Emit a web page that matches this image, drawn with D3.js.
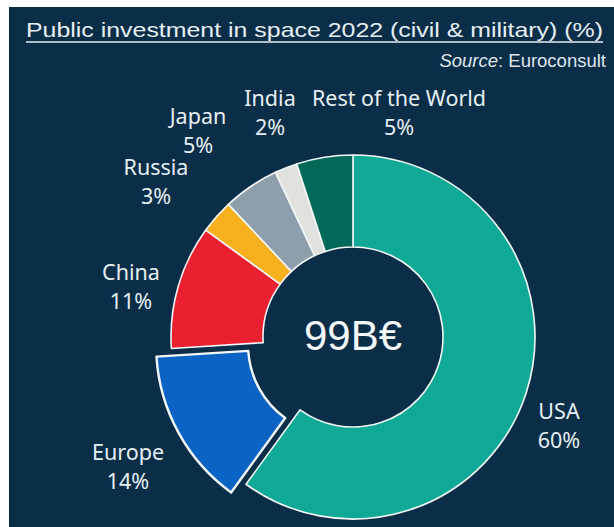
<!DOCTYPE html>
<html>
<head>
<meta charset="utf-8">
<script src="https://cdn.jsdelivr.net/npm/d3@7"></script>
<style>
  html, body { margin: 0; padding: 0; background: #ffffff; }
  svg { display: block; }
</style>
</head>
<body>
<svg id="chart" width="614" height="527"></svg>
<script>
// Shares of public space investment, 2022 (civil & military), clockwise from 12 o'clock
const categories = ["USA", "Europe", "China", "Russia", "Japan", "India", "Rest of the World"];
const shares = [60, 14, 11, 3, 5, 2, 5];
const shareLabels = ["60%", "14%", "11%", "3%", "5%", "2%", "5%"];
const colors = ["#10a996", "#0b63c3", "#e8202f", "#f7b11e", "#8f9eac", "#e1e2de", "#02695a"];
const totalLabel = "99B€";
const highlighted = "Europe";

// Label anchors (centre of text block, first-line baseline)
const labelAnchors = {
  "USA": [559, 419],
  "Europe": [128, 460],
  "China": [131, 280],
  "Russia": [156, 175],
  "Japan": [198, 124],
  "India": [270, 106],
  "Rest of the World": [399, 106]
};

const W = 614, H = 527;
const bg = "#0b2e48";
const textColor = "#e6eef3";
const svg = d3.select("#chart");

// navy panel (thin white margin on the left and top)
svg.append("rect").attr("x", 9).attr("y", 7).attr("width", W - 9).attr("height", H - 7).attr("fill", bg);

// title
svg.append("text")
  .attr("x", 26).attr("y", 37)
  .attr("font-family", "Liberation Sans, Arial, sans-serif")
  .attr("font-size", 21)
  .attr("fill", textColor)
  .attr("textLength", 577)
  .attr("lengthAdjust", "spacingAndGlyphs")
  .text("Public investment in space 2022 (civil & military) (%)");
svg.append("line")
  .attr("x1", 26).attr("x2", 603)
  .attr("y1", 42).attr("y2", 42)
  .attr("stroke", textColor).attr("stroke-width", 1.3);

// source
const src = svg.append("text")
  .attr("x", 606).attr("y", 67)
  .attr("text-anchor", "end")
  .attr("font-family", "Liberation Sans, Arial, sans-serif")
  .attr("font-size", 18.5)
  .attr("fill", "#dfe6ec");
src.append("tspan").attr("font-style", "italic").text("Source");
src.append("tspan").text(": Euroconsult");

// donut
const cx = 353, cy = 337;
const outerR = 182, innerR = 90, explode = 17;

const data = categories.map((c, i) => ({ name: c, value: shares[i], label: shareLabels[i], color: colors[i] }));
const pie = d3.pie().sort(null).value(d => d.value);
const arc = d3.arc().innerRadius(innerR).outerRadius(outerR);
const arcs = pie(data);

const g = svg.append("g").attr("transform", `translate(${cx},${cy})`);

g.selectAll("path.slice")
  .data(arcs)
  .join("path")
  .attr("class", "slice")
  .attr("d", arc)
  .attr("fill", d => d.data.color)
  .attr("stroke", "#f2f6f7")
  .attr("stroke-width", d => d.data.name === highlighted ? 2.4 : 1.6)
  .attr("stroke-linejoin", "round")
  .attr("transform", d => {
    if (d.data.name !== highlighted) return null;
    const mid = (d.startAngle + d.endAngle) / 2;
    return `translate(${Math.sin(mid) * explode},${-Math.cos(mid) * explode})`;
  });

// total in the hole
g.append("text")
  .attr("x", 0).attr("y", 13)
  .attr("text-anchor", "middle")
  .attr("font-family", "Liberation Sans, Arial, sans-serif")
  .attr("font-size", 42)
  .attr("fill", "#f4f7f9")
  .text(totalLabel);

// category labels
const labels = svg.append("g")
  .attr("font-family", "Noto Sans, sans-serif")
  .attr("font-size", 21.5)
  .attr("fill", textColor)
  .attr("text-anchor", "middle");

data.forEach(d => {
  const [x, y] = labelAnchors[d.name];
  const t = labels.append("text").attr("x", x).attr("y", y);
  t.append("tspan").attr("x", x).text(d.name);
  t.append("tspan").attr("x", x).attr("dy", 29).text(d.label);
});
</script>
</body>
</html>
